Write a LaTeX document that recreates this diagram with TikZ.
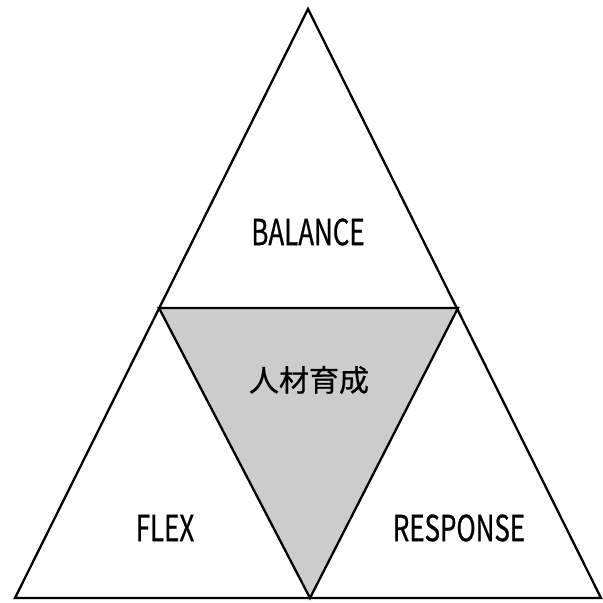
\documentclass[tikz,border=0pt]{standalone}
\usepackage{fontspec}
\setmainfont{Noto Sans CJK JP}[FakeStretch=0.72, FakeBold=0.6]
\newfontfamily\cjkfont{Noto Sans CJK JP}[FakeBold=0.6]
\usetikzlibrary{positioning}

\begin{document}
\begin{tikzpicture}[
            x=1pt, y=-1pt,
            edge_line/.style={draw, line width=2.3pt, line join=miter},
            core_area/.style={fill=gray!40},
            word_label/.style={font=\fontsize{36}{36}\selectfont, inner sep=0pt},
            core_label/.style={font=\cjkfont\fontsize{30}{30}\selectfont, inner sep=0pt}
        ]
            % frame of the picture
            \useasboundingbox (0,0) rectangle (603,603);
            % corners of the big triangle and the middle one
            \coordinate (top) at (308,9);
            \coordinate (left) at (15,598);
            \coordinate (right) at (601,598);
            \coordinate (midleft) at (159,308);
            \coordinate (midright) at (458,308);
            \coordinate (bottom) at (310,598);
            % the shaded triangle in the middle
            \fill[core_area] (midleft) -- (midright) -- (bottom) -- cycle;
            \draw[edge_line] (top) -- (left) -- (right) -- cycle;
            \draw[edge_line] (midleft) -- (midright) -- (bottom) -- cycle;
            % labels
            \node[word_label] (balance) at (308,232) {BALANCE};
            \node[core_label] (core) at (309,380) {人材育成};
            \node[word_label] (flex) at (165,528) {FLEX};
            \node[word_label] (response) at (459,528) {RESPONSE};
        \end{tikzpicture}
\end{document}
